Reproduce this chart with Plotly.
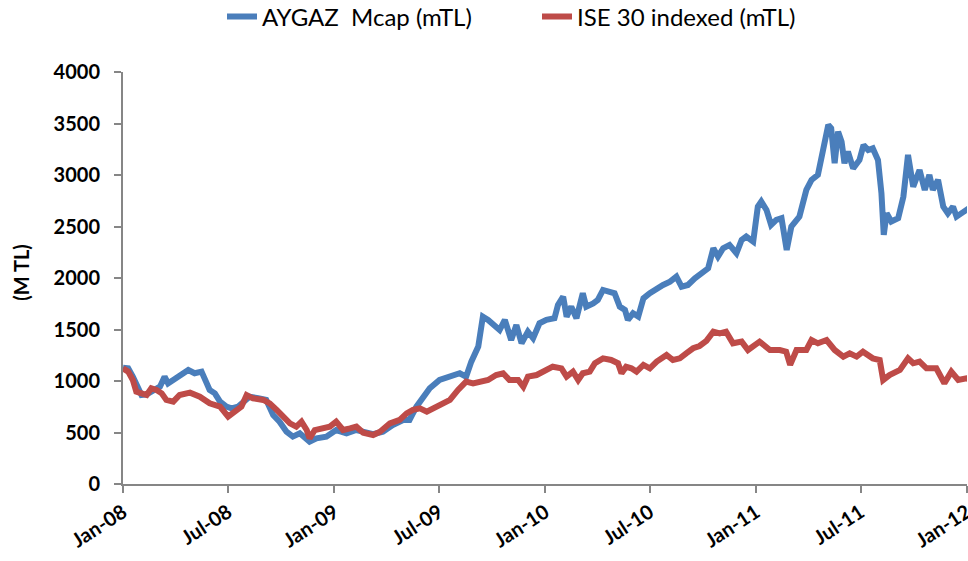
import plotly.graph_objects as go

aygaz_dates = [
    "2008-01-01", "2008-01-10", "2008-01-18", "2008-01-27", "2008-02-02", "2008-02-11",
    "2008-02-22", "2008-03-05", "2008-03-13", "2008-03-19", "2008-03-28", "2008-04-11",
    "2008-04-23", "2008-05-04", "2008-05-16", "2008-05-25", "2008-05-30", "2008-06-08",
    "2008-06-17", "2008-06-28", "2008-07-07", "2008-07-18", "2008-07-30", "2008-08-07",
    "2008-08-22", "2008-09-05", "2008-09-17", "2008-09-28", "2008-10-10", "2008-10-21",
    "2008-11-02", "2008-11-11", "2008-11-19", "2008-12-01", "2008-12-18", "2009-01-04",
    "2009-01-22", "2009-02-08", "2009-02-20", "2009-03-09", "2009-03-26", "2009-04-12",
    "2009-04-30", "2009-05-11", "2009-05-23", "2009-06-03", "2009-06-15", "2009-07-02",
    "2009-07-20", "2009-08-06", "2009-08-17", "2009-08-26", "2009-09-07", "2009-09-15",
    "2009-09-24", "2009-10-06", "2009-10-14", "2009-10-23", "2009-11-03", "2009-11-12",
    "2009-11-21", "2009-12-02", "2009-12-11", "2009-12-22", "2010-01-03", "2010-01-17",
    "2010-01-23", "2010-02-01", "2010-02-07", "2010-02-15", "2010-02-24", "2010-03-07",
    "2010-03-13", "2010-03-25", "2010-04-02", "2010-04-11", "2010-04-23", "2010-05-01",
    "2010-05-10", "2010-05-19", "2010-05-24", "2010-06-02", "2010-06-11", "2010-06-20",
    "2010-07-01", "2010-07-13", "2010-07-24", "2010-08-05", "2010-08-16", "2010-08-25",
    "2010-09-05", "2010-09-17", "2010-10-01", "2010-10-10", "2010-10-19", "2010-10-27",
    "2010-11-05", "2010-11-16", "2010-11-28", "2010-12-07", "2010-12-15", "2010-12-27",
    "2011-01-04", "2011-01-10", "2011-01-19", "2011-01-27", "2011-02-05", "2011-02-14",
    "2011-02-23", "2011-03-03", "2011-03-17", "2011-03-29", "2011-04-07", "2011-04-18",
    "2011-04-27", "2011-05-06", "2011-05-11", "2011-05-17", "2011-05-23", "2011-05-29",
    "2011-06-03", "2011-06-09", "2011-06-18", "2011-06-29", "2011-07-06", "2011-07-14",
    "2011-07-22", "2011-07-31", "2011-08-06", "2011-08-10", "2011-08-15", "2011-08-23",
    "2011-09-04", "2011-09-13", "2011-09-21", "2011-09-30", "2011-10-11", "2011-10-20",
    "2011-10-28", "2011-11-03", "2011-11-12", "2011-11-21", "2011-11-29", "2011-12-08",
    "2011-12-14", "2011-12-31", "2012-01-03",
]
aygaz_values = [
    1130, 1123, 1042, 945, 864, 870,
    913, 945, 1042, 977, 1010, 1058,
    1107, 1075, 1091, 977, 913, 880,
    800, 751, 735, 751, 816, 848,
    832, 816, 670, 605, 508, 460,
    492, 443, 411, 443, 460, 524,
    492, 524, 508, 485, 508, 573,
    622, 622, 751, 832, 929, 1010,
    1042, 1075, 1042, 1188, 1334, 1625,
    1593, 1528, 1495, 1593, 1398, 1544,
    1366, 1479, 1415, 1560, 1593, 1609,
    1738, 1819, 1625, 1722, 1609, 1852,
    1722, 1754, 1787, 1884, 1868, 1852,
    1722, 1690, 1593, 1657, 1625, 1803,
    1852, 1900, 1932, 1965, 2013, 1916,
    1932, 1997, 2046, 2094, 2289, 2208,
    2289, 2321, 2240, 2369, 2402, 2353,
    2693, 2742, 2661, 2515, 2564, 2580,
    2272, 2499, 2596, 2855, 2952, 3001,
    3243, 3486, 3453, 3114, 3421, 3324,
    3114, 3227, 3065, 3146, 3292, 3243,
    3259, 3146, 2823, 2418, 2628, 2548,
    2580, 2790, 3195, 2887, 3049, 2855,
    3001, 2855, 2952, 2693, 2628, 2693,
    2596, 2661, 2640,
]

ise_dates = [
    "2008-01-01", "2008-01-10", "2008-01-18", "2008-01-24", "2008-02-02", "2008-02-11",
    "2008-02-19", "2008-02-28", "2008-03-08", "2008-03-16", "2008-03-28", "2008-04-08",
    "2008-04-26", "2008-05-13", "2008-05-30", "2008-06-17", "2008-07-01", "2008-07-12",
    "2008-07-24", "2008-08-02", "2008-08-13", "2008-08-31", "2008-09-11", "2008-09-23",
    "2008-10-04", "2008-10-16", "2008-10-27", "2008-11-05", "2008-11-14", "2008-11-19",
    "2008-11-28", "2008-12-12", "2008-12-24", "2009-01-04", "2009-01-16", "2009-01-28",
    "2009-02-08", "2009-02-20", "2009-03-09", "2009-03-21", "2009-04-07", "2009-04-24",
    "2009-05-06", "2009-05-17", "2009-05-29", "2009-06-10", "2009-06-21", "2009-06-29",
    "2009-07-20", "2009-08-03", "2009-08-17", "2009-08-29", "2009-09-10", "2009-09-24",
    "2009-10-08", "2009-10-20", "2009-10-31", "2009-11-15", "2009-11-24", "2009-12-02",
    "2009-12-17", "2010-01-03", "2010-01-14", "2010-01-29", "2010-02-07", "2010-02-18",
    "2010-02-27", "2010-03-07", "2010-03-19", "2010-03-28", "2010-04-11", "2010-04-25",
    "2010-05-07", "2010-05-13", "2010-05-21", "2010-05-30", "2010-06-08", "2010-06-20",
    "2010-07-01", "2010-07-13", "2010-07-30", "2010-08-10", "2010-08-22", "2010-09-02",
    "2010-09-14", "2010-09-25", "2010-10-07", "2010-10-19", "2010-10-30", "2010-11-10",
    "2010-11-22", "2010-12-07", "2010-12-18", "2011-01-07", "2011-01-25", "2011-02-11",
    "2011-02-22", "2011-03-01", "2011-03-12", "2011-03-29", "2011-04-07", "2011-04-18",
    "2011-05-03", "2011-05-17", "2011-06-01", "2011-06-12", "2011-06-24", "2011-07-05",
    "2011-07-22", "2011-08-03", "2011-08-09", "2011-08-20", "2011-09-07", "2011-09-21",
    "2011-09-30", "2011-10-11", "2011-10-23", "2011-11-09", "2011-11-23", "2011-12-05",
    "2011-12-17", "2011-12-31", "2012-01-03",
]
ise_values = [
    1123, 1091, 1010, 897, 880, 864,
    929, 913, 880, 816, 800, 864,
    887, 848, 783, 751, 654, 702,
    751, 864, 832, 816, 783, 719,
    654, 589, 557, 605, 524, 443,
    524, 540, 557, 605, 524, 540,
    557, 498, 476, 508, 589, 622,
    686, 719, 735, 702, 735, 767,
    816, 913, 994, 977, 994, 1010,
    1058, 1075, 1010, 1010, 945, 1042,
    1058, 1107, 1139, 1123, 1042, 1091,
    1010, 1075, 1091, 1172, 1220, 1204,
    1172, 1075, 1139, 1123, 1091, 1156,
    1123, 1188, 1253, 1204, 1220, 1269,
    1318, 1340, 1390, 1479, 1463, 1479,
    1366, 1382, 1301, 1382, 1301, 1301,
    1285, 1156, 1301, 1301, 1398, 1366,
    1398, 1301, 1237, 1269, 1237, 1285,
    1220, 1204, 1010, 1058, 1107, 1220,
    1172, 1188, 1123, 1123, 978, 1091,
    1010, 1026, 1020,
]

x_tickvals = ["2008-01-01", "2008-07-01", "2009-01-01", "2009-07-01", "2010-01-01",
              "2010-07-01", "2011-01-01", "2011-07-01", "2012-01-01"]
x_ticktext = ["Jan-08", "Jul-08", "Jan-09", "Jul-09", "Jan-10",
              "Jul-10", "Jan-11", "Jul-11", "Jan-12"]
y_tickvals = [0, 500, 1000, 1500, 2000, 2500, 3000, 3500, 4000]

FONT = "Lato, 'Open Sans', sans-serif"

fig = go.Figure()
fig.add_trace(go.Scatter(
    x=aygaz_dates, y=aygaz_values, mode="lines",
    name="AYGAZ\u00a0\u00a0Mcap (mTL)",
    line=dict(color="#4A7EBB", width=6),
))
fig.add_trace(go.Scatter(
    x=ise_dates, y=ise_values, mode="lines",
    name="ISE 30 indexed (mTL)",
    line=dict(color="#BE4B48", width=6),
))

fig.update_layout(
    width=968, height=561,
    margin=dict(l=123, r=1, t=72, b=77, autoexpand=False),
    paper_bgcolor="white", plot_bgcolor="white",
    showlegend=True,
    legend=dict(
        orientation="h", xref="container", yref="container",
        x=222 / 968, xanchor="left", y=0.97, yanchor="middle",
        font=dict(family=FONT, size=24, color="#000000"),
        entrywidth=270, entrywidthmode="pixels",
        tracegroupgap=0,
    ),
    xaxis=dict(
        type="date", automargin=False,
        range=["2008-01-01", "2012-01-01 03:00"],
        tickmode="array", tickvals=x_tickvals, ticktext=x_ticktext,
        tickangle=-33, ticklabeloverflow="allow",
        ticks="outside", ticklen=7, tickcolor="#868686", tickwidth=1.5,
        showline=True, linecolor="#868686", linewidth=2,
        showgrid=False, zeroline=False,
        tickfont=dict(family=FONT, size=20, color="#000000", weight="bold"),
    ),
    yaxis=dict(
        range=[0, 4000], automargin=False,
        tickmode="array", tickvals=y_tickvals,
        ticks="outside", ticklen=7, tickcolor="#868686", tickwidth=1.5,
        ticklabelstandoff=10,
        showline=True, linecolor="#868686", linewidth=2,
        showgrid=False, zeroline=False,
        tickfont=dict(family=FONT, size=20, color="#000000", weight="bold"),
    ),
    annotations=[dict(
        text="(M TL)", xref="paper", yref="paper",
        x=-0.121, y=0.515, xanchor="center", yanchor="middle",
        textangle=-90, showarrow=False,
        font=dict(family=FONT, size=20, color="#000000", weight="bold"),
    )],
)

fig.write_html(
    "out.html",
    config={"displayModeBar": False},
    post_script="document.body.style.margin='0';document.body.style.padding='0';",
)
